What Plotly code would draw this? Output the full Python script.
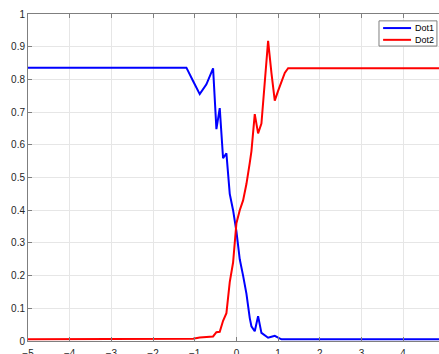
import plotly.graph_objects as go

# Sample positions (shared by both dots)
x_vals = [-5.0, -1.2, -1.04, -0.88, -0.72, -0.56, -0.48, -0.40, -0.32, -0.24,
          -0.16, -0.08, 0.0, 0.08, 0.16, 0.24, 0.32, 0.36, 0.44, 0.52,
          0.60, 0.68, 0.76, 0.84, 0.92, 1.0, 1.08, 1.16, 1.24, 5.0]

# Occupation of dot 1
dot1 = [0.836, 0.836, 0.795, 0.755, 0.785, 0.834, 0.648, 0.712, 0.559, 0.574,
        0.45, 0.40, 0.335, 0.25, 0.20, 0.145, 0.07, 0.045, 0.03, 0.076,
        0.025, 0.016, 0.010, 0.013, 0.016, 0.010, 0.005, 0.005, 0.005, 0.005]

# Occupation of dot 2
dot2 = [0.005, 0.005, 0.007, 0.011, 0.012, 0.014, 0.027, 0.028, 0.062, 0.085,
        0.18, 0.24, 0.36, 0.40, 0.43, 0.48, 0.545, 0.58, 0.694, 0.635,
        0.665, 0.78, 0.918, 0.82, 0.735, 0.765, 0.795, 0.82, 0.834, 0.834]

series_names = ["Dot1", "Dot2"]
series_colors = ["#0000ff", "#ff0000"]

y_ticks = [0, 0.1, 0.2, 0.3, 0.4, 0.5, 0.6, 0.7, 0.8, 0.9, 1]
x_ticks = [-5, -4, -3, -2, -1, 0, 1, 2, 3, 4, 5]

FONT = "Liberation Sans, Arial, Helvetica, sans-serif"

fig = go.Figure()
for name, color, ys in zip(series_names, series_colors, [dot1, dot2]):
    fig.add_trace(go.Scatter(x=x_vals, y=ys, mode="lines", name=name,
                             line=dict(color=color, width=2)))

axis_common = dict(
    showgrid=True, gridcolor="#e6e6e6", gridwidth=1,
    showline=True, linecolor="#7f7f7f", linewidth=1,
    ticks="inside", ticklen=4, tickcolor="#7f7f7f",
    zeroline=False, automargin=False,
    tickfont=dict(family=FONT, size=10, color="#262626"),
)

fig.update_layout(
    width=439, height=354,
    margin=dict(l=28, r=0, t=14, b=13),
    paper_bgcolor="white", plot_bgcolor="white",
    xaxis=dict(range=[-5, 4.86], tickvals=x_ticks, mirror="ticks",
               ticklabelstandoff=3, **axis_common),
    yaxis=dict(range=[0, 1], tickvals=y_ticks, ticktext=[str(v) for v in y_ticks],
               mirror=False, **axis_common),
    showlegend=False,
)

# Compact boxed legend in the upper-right corner of the axes
box_x0, box_x1, box_y0, box_y1 = 0.854, 0.995, 0.902, 0.979
fig.add_shape(type="rect", xref="paper", yref="paper",
              x0=box_x0, x1=box_x1, y0=box_y0, y1=box_y1,
              line=dict(color="#7f7f7f", width=1), fillcolor="white", layer="above")
entry_rows = [0.957, 0.921]
for name, color, row in zip(series_names, series_colors, entry_rows):
    fig.add_shape(type="line", xref="paper", yref="paper",
                  x0=0.864, x1=0.932, y0=row, y1=row,
                  line=dict(color=color, width=2), layer="above")
    fig.add_annotation(xref="paper", yref="paper", x=0.937, y=row,
                       xanchor="left", yanchor="middle", text=name, showarrow=False,
                       font=dict(family=FONT, size=9, color="#000000"))

fig.write_html("out.html")
